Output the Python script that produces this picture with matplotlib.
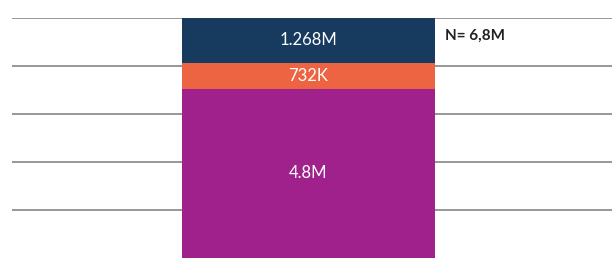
import matplotlib.pyplot as plt

# segmentos de la barra apilada (en millones), de abajo hacia arriba
segmentos = ['bajo', 'medio', 'alto']
valores = [4.8, 0.732, 1.268]
etiquetas = ['4.8M', '732K', '1.268M']
colores = ['#a0218b', '#ec6441', '#173a5f']
total_txt = 'N= 6,8M'
total = sum(valores)

plt.rcParams['font.family'] = ['Lato', 'DejaVu Sans']

fig = plt.figure(figsize=(6.15, 2.58), dpi=100)
ax = fig.add_axes([12 / 615, 0, 600 / 615, 1 - 18 / 258])

# Lineas de fondo
ticks = [total * k / 5 for k in range(1, 6)]
for t in ticks:
    ax.axhline(t, color='#7a7a7a', linewidth=1.1, zorder=0)

# Barra apilada
base = 0
for nombre, v, et, c in zip(segmentos, valores, etiquetas, colores):
    ax.bar(0, v, bottom=base, width=1, color=c, zorder=2)
    ax.text(0, base + v / 2, et, ha='center', va='center', color='white',
            fontsize=12, zorder=3)
    base += v

ax.text(0.54, total - 0.5, total_txt, ha='left', va='center',
        fontsize=11, fontweight='bold', color='#222222')

# Ejes
ax.set_xlim(-0.5 - 170 / 253, 0.5 + 177 / 253)
ax.set_ylim(0, total)
ax.axis('off')

fig.savefig('out.png', dpi=100)
